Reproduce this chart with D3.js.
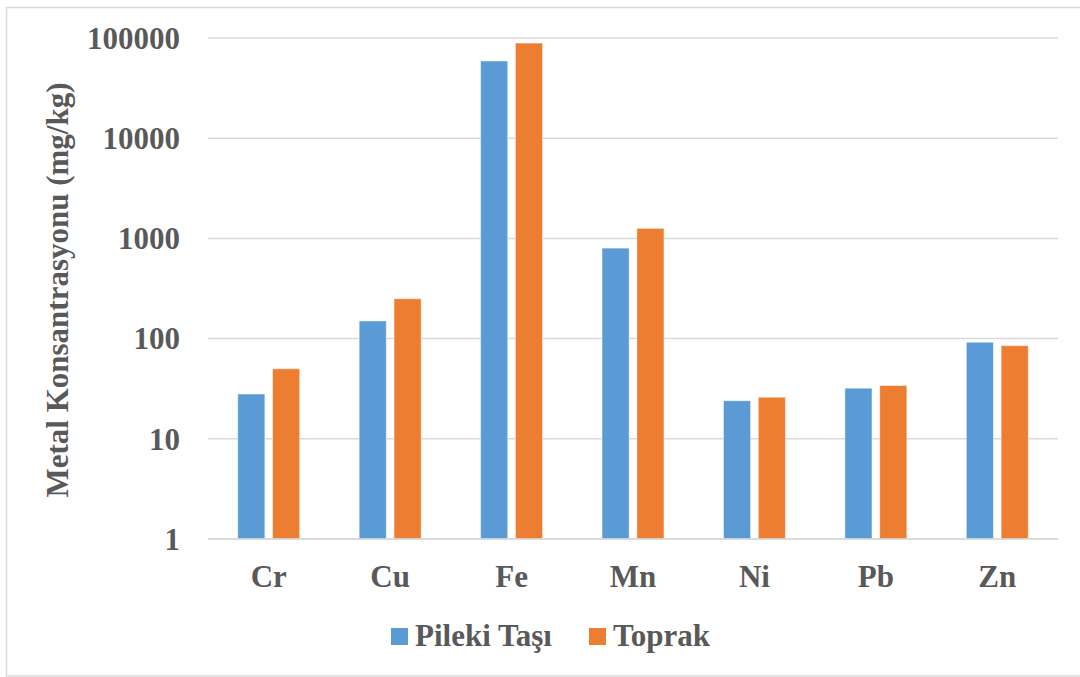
<!DOCTYPE html>
<html lang="tr">
<head>
    <meta charset="utf-8">
    <title>Metal Konsantrasyonu</title>
    <script src="https://d3js.org/d3.v7.min.js"></script>
    <style>
        * { margin: 0; padding: 0; }
        body { width: 1080px; height: 677px; background: #fff; overflow: hidden; }
        svg text { font-weight: bold; fill: #595959; }
    </style>
</head>
<body>
<div id="container"></div>
<script>
    const metals = ["Cr", "Cu", "Fe", "Mn", "Ni", "Pb", "Zn"];
    const pilekiTasi = [28, 150, 59000, 800, 24, 32, 92];
    const toprak = [50, 250, 89000, 1260, 26, 34, 85];
    const seriesNames = ["Pileki Taşı", "Toprak"];
    const seriesColors = ["#5B9BD5", "#ED7D31"];
    const yTicks = [1, 10, 100, 1000, 10000, 100000];

    const w = 1080, h = 677;
    const plotLeft = 208, plotRight = 1058, plotTop = 38, plotBottom = 539;
    const font = "'Liberation Serif', Tinos, 'Times New Roman', Times, 'DejaVu Serif', serif";

    const svg = d3.select("#container")
        .append("svg")
        .attr("width", w)
        .attr("height", h)
        .attr("font-family", font);

    // outer chart frame
    svg.append("rect")
        .attr("x", 6.5).attr("y", 7.5)
        .attr("width", 1090).attr("height", 668.5)
        .attr("fill", "none")
        .attr("stroke", "#d9d9d9")
        .attr("stroke-width", 1.5);

    const x0 = d3.scaleBand().domain(metals).range([plotLeft, plotRight]);
    const groupW = 62;
    const x1 = d3.scaleBand().domain(seriesNames).range([0, groupW]).paddingInner(0.22);
    const y = d3.scaleLog().domain([1, 100000]).range([plotBottom, plotTop]);

    // gridlines
    svg.append("g")
        .selectAll("line")
        .data(yTicks)
        .enter()
        .append("line")
        .attr("x1", plotLeft).attr("x2", plotRight)
        .attr("y1", d => y(d)).attr("y2", d => y(d))
        .attr("stroke", "#d9d9d9")
        .attr("stroke-width", 1.5);

    // y tick labels
    svg.append("g")
        .selectAll("text")
        .data(yTicks)
        .enter()
        .append("text")
        .attr("x", 180)
        .attr("y", d => y(d))
        .attr("dy", "0.35em")
        .attr("text-anchor", "end")
        .attr("font-size", 31)
        .text(d => d);

    // bars
    const rows = metals.map((m, i) => ({ metal: m, values: [pilekiTasi[i], toprak[i]] }));
    const groups = svg.append("g")
        .selectAll("g")
        .data(rows)
        .enter()
        .append("g")
        .attr("transform", d => `translate(${x0(d.metal) + (x0.bandwidth() - groupW) / 2},0)`);

    groups.selectAll("rect")
        .data(d => d.values.map((v, j) => ({ name: seriesNames[j], value: v, color: seriesColors[j] })))
        .enter()
        .append("rect")
        .attr("x", d => x1(d.name))
        .attr("y", d => y(d.value))
        .attr("width", x1.bandwidth())
        .attr("height", d => plotBottom - y(d.value))
        .attr("fill", d => d.color)
        .attr("stroke", "#fff")
        .attr("stroke-opacity", 0.5)
        .attr("stroke-width", 1);

    // bottom axis line on top of bars
    svg.append("line")
        .attr("x1", plotLeft).attr("x2", plotRight)
        .attr("y1", plotBottom).attr("y2", plotBottom)
        .attr("stroke", "#d9d9d9")
        .attr("stroke-width", 1.5);

    // category labels
    svg.append("g")
        .selectAll("text")
        .data(metals)
        .enter()
        .append("text")
        .attr("x", d => x0(d) + x0.bandwidth() / 2)
        .attr("y", 587)
        .attr("text-anchor", "middle")
        .attr("font-size", 31)
        .text(d => d);

    // y axis title
    svg.append("text")
        .attr("transform", "translate(68,290) rotate(-90)")
        .attr("text-anchor", "middle")
        .attr("font-size", 31)
        .text("Metal Konsantrasyonu (mg/kg)");

    // legend
    const legendX = [391, 589];
    const legend = svg.append("g")
        .selectAll("g")
        .data(seriesNames)
        .enter()
        .append("g")
        .attr("transform", (d, i) => `translate(${legendX[i]},628)`);
    legend.append("rect")
        .attr("width", 17).attr("height", 17)
        .attr("fill", (d, i) => seriesColors[i]);
    legend.append("text")
        .attr("x", 24)
        .attr("y", 18)
        .attr("font-size", 31)
        .text(d => d);
</script>
</body>
</html>
